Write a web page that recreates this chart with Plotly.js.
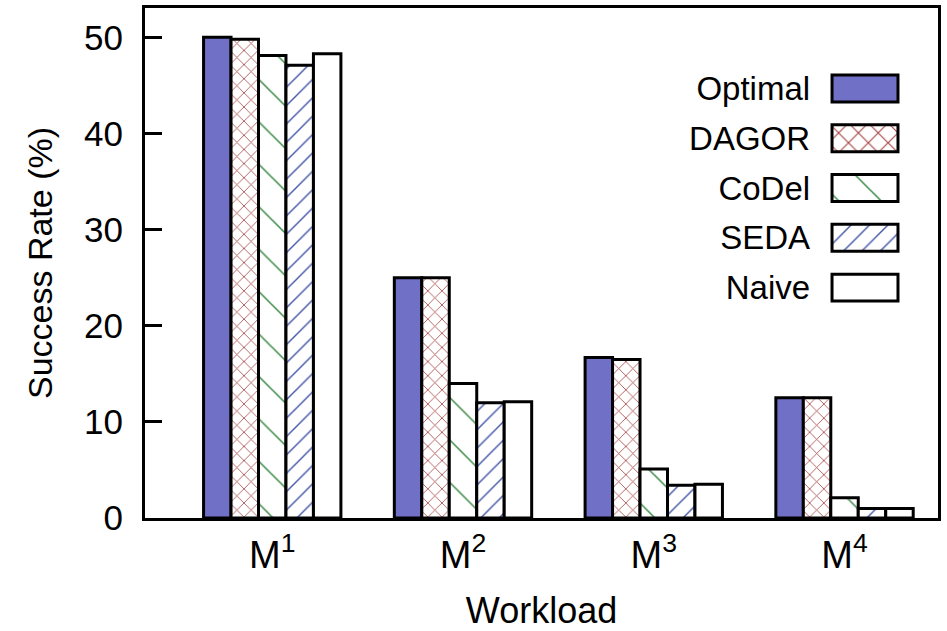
<!DOCTYPE html>
<html>
<head>
<meta charset="utf-8">
<script src="https://cdn.plot.ly/plotly-3.0.1.min.js"></script>
<style>html,body{margin:0;padding:0;background:#fff;}#chart{width:947px;height:631px;}</style>
</head>
<body>
<div id="chart"></div>
<script>
// ---- data ----
const workloads = [0, 1, 2, 3];
const workloadLabels = ["M<sup>1</sup>", "M<sup>2</sup>", "M<sup>3</sup>", "M<sup>4</sup>"];
const seriesNames = ["Optimal", "DAGOR", "CoDel", "SEDA", "Naive"];
const optimal = [50.0, 25.0, 16.7, 12.5];
const dagor   = [49.8, 25.0, 16.5, 12.5];
const codel   = [48.1, 14.0, 5.1, 2.1];
const seda    = [47.1, 12.0, 3.4, 1.0];
const naive   = [48.3, 12.1, 3.5, 1.0];
const legendKeyLength = [1];

// ---- styles ----
const styles = {
  Optimal: {color: "#7070C6", pattern: {shape: ""}},
  DAGOR:   {color: "#ffffff", pattern: {shape: "x", fgcolor: "#A84848", bgcolor: "#ffffff", fgopacity: 1, size: 10, solidity: 0.16, fillmode: "overlay"}},
  CoDel:   {color: "#ffffff", pattern: {shape: "\\", fgcolor: "#3C8A46", bgcolor: "#ffffff", fgopacity: 1, size: 30, solidity: 0.05, fillmode: "overlay"}},
  SEDA:    {color: "#ffffff", pattern: {shape: "/", fgcolor: "#4458A8", bgcolor: "#ffffff", fgopacity: 1, size: 13, solidity: 0.11, fillmode: "overlay"}},
  Naive:   {color: "#ffffff", pattern: {shape: ""}}
};
const legendSizes = {Optimal: 10, DAGOR: 14, CoDel: 30, SEDA: 13, Naive: 10};
const values = {Optimal: optimal, DAGOR: dagor, CoDel: codel, SEDA: seda, Naive: naive};

const traces = seriesNames.map(name => ({
  type: "bar",
  name: name,
  x: workloads,
  y: values[name],
  marker: {color: styles[name].color, pattern: styles[name].pattern, line: {color: "#000", width: 3}},
  showlegend: false,
  hoverinfo: "skip"
}));

// custom legend (key box right of its label), drawn as a small horizontal-bar subplot
seriesNames.forEach(name => {
  const pat = Object.assign({}, styles[name].pattern);
  if (pat.shape) pat.size = legendSizes[name];
  traces.push({
    type: "bar",
    orientation: "h",
    x: legendKeyLength,
    y: [name],
    xaxis: "x2",
    yaxis: "y2",
    offsetgroup: "legend",
    width: 0.54,
    marker: {color: styles[name].color, pattern: pat, line: {color: "#000", width: 3}},
    showlegend: false,
    hoverinfo: "skip"
  });
});

const font = "Liberation Sans, Arial, sans-serif";
const layout = {
  width: 947, height: 631,
  margin: {l: 145, r: 9, t: 8, b: 113},
  paper_bgcolor: "#fff", plot_bgcolor: "#fff",
  font: {family: font, size: 35, color: "#000"},
  barmode: "group", bargap: 0.28, bargroupgap: 0,
  showlegend: false,
  xaxis: {
    range: [-0.667, 3.49],
    tickvals: workloads, ticktext: workloadLabels,
    ticks: "", showgrid: false, zeroline: false,
    showline: true, mirror: true, linecolor: "#000", linewidth: 3,
    tickfont: {size: 38}, ticklabelstandoff: 1,
    title: {text: "Workload", font: {size: 36}, standoff: 24},
    automargin: false
  },
  yaxis: {
    range: [0, 53.05], dtick: 10, tick0: 0,
    ticks: "inside", ticklen: 17, tickwidth: 3, tickcolor: "#000",
    showgrid: false, zeroline: false,
    showline: true, mirror: true, linecolor: "#000", linewidth: 3,
    tickfont: {size: 35}, ticklabelstandoff: 12,
    title: {text: "Success Rate (%)", font: {size: 34}, standoff: 22},
    automargin: false
  },
  xaxis2: {
    domain: [0.8622, 0.9537], range: [-0.05, 1.05], anchor: "y2",
    visible: false, fixedrange: true
  },
  yaxis2: {
    domain: [0.403, 0.891], anchor: "x2",
    type: "category", categoryorder: "array", categoryarray: seriesNames,
    range: [4.5, -0.5],
    showline: false, showgrid: false, zeroline: false,
    ticks: "outside", ticklen: 11, tickcolor: "rgba(0,0,0,0)",
    tickfont: {size: 33}, fixedrange: true
  }
};

Plotly.newPlot("chart", traces, layout, {displayModeBar: false, staticPlot: true});
</script>
</body>
</html>
